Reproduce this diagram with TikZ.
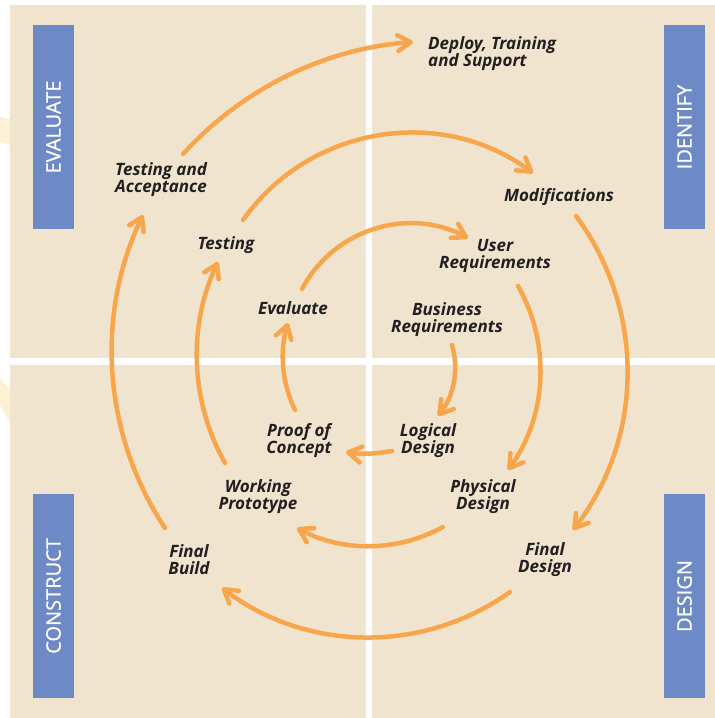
\documentclass[tikz,border=0pt]{standalone}
\usepackage{fontspec}
\setmainfont{Open Sans}
\setsansfont{Open Sans}
\newfontfamily\barfont[FakeBold=0.6]{Open Sans}
\usetikzlibrary{arrows.meta}
\definecolor{beige}{HTML}{F1E4CF}
\definecolor{barblue}{HTML}{6D8AC6}
\definecolor{org}{HTML}{F8A64C}
\definecolor{txt}{HTML}{231F20}
\definecolor{ghost}{HTML}{FEF0D5}
\begin{document}
\begin{tikzpicture}[x=1pt,y=1pt,
  quad/.style={fill=beige,draw=none},
  ghostshape/.style={fill=ghost,draw=none},
  lbl/.style={font=\fontsize{17}{17}\selectfont\bfseries\itshape,text=txt,align=center,inner sep=0pt},
  bar/.style={rotate=90,fill=barblue,text=white,minimum width=204pt,minimum height=41pt,inner sep=0pt,font=\barfont\fontsize{20}{20}\selectfont},
  arr/.style={draw=org,line width=4.5pt,line cap=round,line join=round,-{Straight Barb[length=13pt,width=16pt,line cap=round,line join=round]}}]
\fill[white] (0,0) rectangle (715,718);
\useasboundingbox (0,0) rectangle (715,718);
% faint background shapes
\fill[ghostshape] (0,601) -- (10,599) -- (10,573) -- (0,577) -- cycle;
\fill[ghostshape] (0,340) -- (10,328) -- (10,295) -- (0,313) -- cycle;
% quadrants
\fill[quad] (10,360) rectangle (366,713);
\fill[quad] (372,360) rectangle (715,713);
\fill[quad] (10,0) rectangle (366,353);
\fill[quad] (372,0) rectangle (715,353);
% bars
\node[bar] (evalbar) at (53.5,591) {EVALUATE};
\node[bar] (identbar) at (684.5,591) {IDENTIFY};
\node[bar] (constbar) at (53.5,122) {CONSTRUCT};
\node[bar] (desbar) at (684.5,122) {DESIGN};
% labels
\node[lbl,align=left,anchor=west] (deploy) at (428,664.5) {Deploy, Training\\and Support};
\node[lbl,align=left,anchor=west] (tacc) at (115,538) {Testing and\\Acceptance};
\node[lbl] (modif) at (559,521) {Modifications};
\node[lbl] (testing) at (226,473) {Testing};
\node[lbl] (userreq) at (495,462.5) {User\\Requirements};
\node[lbl] (evaluate) at (293,410) {Evaluate};
\node[lbl] (busreq) at (447,398.5) {Business\\Requirements};
\node[lbl] (logical) at (428,277.5) {Logical\\Design};
\node[lbl] (proof) at (299,277.5) {Proof of\\Concept};
\node[lbl] (working) at (258,221) {Working\\Prototype};
\node[lbl] (physical) at (483,221) {Physical\\Design};
\node[lbl] (finalbuild) at (189,158.5) {Final\\Build};
\node[lbl] (finaldesign) at (545,158.5) {Final\\Design};
% connector end points
\coordinate (a1s) at (183,564); \coordinate (a1e) at (413,676);
\coordinate (a2s) at (243,498); \coordinate (a2e) at (533,545);
\coordinate (a3s) at (302,429); \coordinate (a3e) at (468,480);
\coordinate (a4s) at (576,502); \coordinate (a4e) at (573,188);
\coordinate (a5s) at (518,432); \coordinate (a5e) at (508,248);
\coordinate (a6s) at (452,373); \coordinate (a6e) at (438,302);
\coordinate (a7s) at (392,267); \coordinate (a7e) at (346,266);
\coordinate (a8s) at (295,308); \coordinate (a8e) at (288,395);
\coordinate (a9s) at (443,191); \coordinate (a9e) at (297,190);
\coordinate (a10s) at (225,255); \coordinate (a10e) at (218,456);
\coordinate (a11s) at (510,126); \coordinate (a11e) at (222,130);
\coordinate (a12s) at (165,190); \coordinate (a12e) at (143,503);
% connectors (circular arcs)
\draw[arr] (a1s) to[out=47.7,in=184.2,looseness=0.885] (a1e);
\draw[arr] (a2s) to[out=54.8,in=143.6,looseness=1.0] (a2e);
\draw[arr] (a3s) to[out=61.9,in=152.3,looseness=1.0] (a3e);
\draw[arr] (a4s) to[out=-53.4,in=52.3,looseness=0.948] (a4e);
\draw[arr] (a5s) to[out=-60.4,in=54.1,looseness=0.926] (a5e);
\draw[arr] (a6s) to[out=-73.9,in=51.6,looseness=0.9] (a6e);
\draw[arr] (a7s) to[out=190,in=-10,looseness=0.86] (a7e);
\draw[arr] (a8s) to[out=115.8,in=-106.6,looseness=0.88] (a8e);
\draw[arr] (a9s) to[out=208.8,in=-28.1,looseness=0.905] (a9e);
\draw[arr] (a10s) to[out=119.3,in=-115.3,looseness=0.9] (a10e);
\draw[arr] (a11s) to[out=215.5,in=-37.1,looseness=0.943] (a11e);
\draw[arr] (a12s) to[out=123.6,in=-115.6,looseness=0.911] (a12e);
\end{tikzpicture}
\end{document}
